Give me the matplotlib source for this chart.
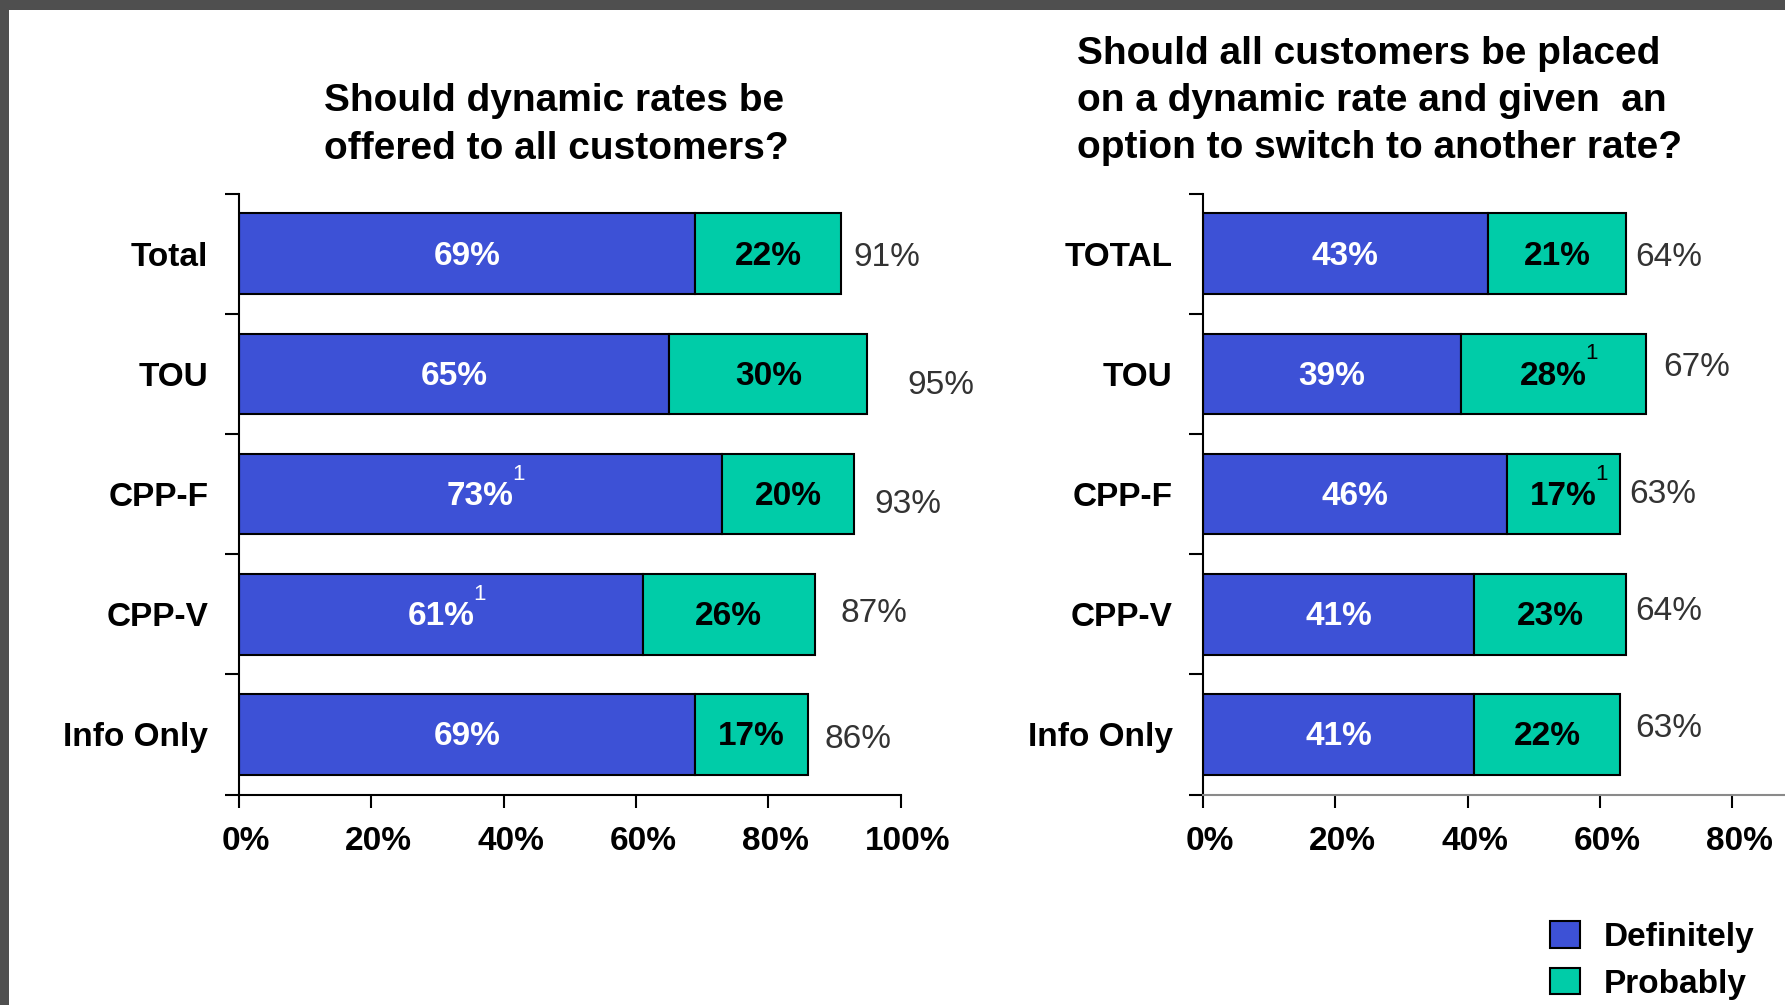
import matplotlib
matplotlib.use("Agg")
import numpy as np
import matplotlib.pyplot as plt
import matplotlib.transforms as mtransforms
from matplotlib.patches import Patch, Rectangle

plt.rcParams['font.family'] = ['Liberation Sans', 'DejaVu Sans']

BLUE = '#3d51d6'
GREEN = '#00cca8'

# survey results, percent
cats_left = ['Total', 'TOU', 'CPP-F', 'CPP-V', 'Info Only']
definitely_left = [69, 65, 73, 61, 69]
probably_left = [22, 30, 20, 26, 17]
note_def_left = [False, False, True, True, False]
note_prob_left = [False, False, False, False, False]

cats_right = ['TOTAL', 'TOU', 'CPP-F', 'CPP-V', 'Info Only']
definitely_right = [43, 39, 46, 41, 41]
probably_right = [21, 28, 17, 23, 22]
note_def_right = [False, False, False, False, False]
note_prob_right = [False, True, True, False, False]

xticks_left = [0, 20, 40, 60, 80, 100]
xticks_right = [0, 20, 40, 60, 80]

# nudges for the total labels (x in percent, y in rows)
nudge_left = [(1.9, 0.03), (6.0, 0.095), (3.0, 0.085), (4.0, -0.01), (2.5, 0.04)]
nudge_right = [(1.4, 0.03), (2.5, -0.05), (1.4, 0.0), (1.4, -0.02), (2.4, -0.05)]

title_left = "Should dynamic rates be\noffered to all customers?"
title_right = ("Should all customers be placed\non a dynamic rate and given  an\n"
               "option to switch to another rate?")


def draw_panel(ax, cats, d, p, note_d, note_p, nudge, xticks):
    y = np.arange(len(cats))
    ax.barh(y, d, height=0.67, color=BLUE, edgecolor='black', linewidth=1.5)
    ax.barh(y, p, left=d, height=0.67, color=GREEN, edgecolor='black', linewidth=1.5)
    for i in range(len(cats)):
        t1 = ax.text(d[i] / 2, y[i] + 0.02, f"{d[i]}%", color='white', fontsize=24,
                     fontweight='bold', ha='center', va='center')
        t2 = ax.text(d[i] + p[i] / 2, y[i] + 0.02, f"{p[i]}%", color='black', fontsize=24,
                     fontweight='bold', ha='center', va='center')
        for t, flag, col in ((t1, note_d[i], 'white'), (t2, note_p[i], 'black')):
            if flag:
                ax.annotate('1', xy=(1, 1), xycoords=t, xytext=(-1, 5),
                            textcoords='offset points', fontsize=16,
                            color=col, ha='left', va='center')
        tot = d[i] + p[i]
        ax.text(tot + nudge[i][0], y[i] + nudge[i][1], f"{tot}%", color='#333333',
                fontsize=24, ha='left', va='center', clip_on=False)

    ax.set_ylim(len(cats) - 0.5, -0.5)
    ax.set_xlim(0, 100)
    ax.set_yticks(np.arange(len(cats) + 1) - 0.5)
    ax.set_yticklabels([])
    ax.set_yticks(y, minor=True)
    ax.set_yticklabels(cats, minor=True, fontsize=24, fontweight='bold')
    ax.tick_params(axis='y', which='major', length=10, width=1.5, direction='out')
    ax.tick_params(axis='y', which='minor', length=0, pad=22)
    ax.set_xticks(xticks)
    ax.set_xticklabels([f"{v}%" for v in xticks], fontsize=24, fontweight='bold')
    ax.tick_params(axis='x', length=9, width=1.5, direction='out', pad=14)
    shift = mtransforms.ScaledTranslation(5 / 72, 0, ax.figure.dpi_scale_trans)
    for lab in ax.get_xticklabels():
        lab.set_transform(lab.get_transform() + shift)
    for s in ('top', 'right'):
        ax.spines[s].set_visible(False)
    for s in ('left', 'bottom'):
        ax.spines[s].set_linewidth(1.5)


fig = plt.figure(figsize=(17.85, 10.05), dpi=100)

ax1 = fig.add_axes([0.1339, 0.2094, 0.3706, 0.598])
draw_panel(ax1, cats_left, definitely_left, probably_left,
           note_def_left, note_prob_left, nudge_left, xticks_left)

ax2 = fig.add_axes([0.674, 0.2094, 0.3706, 0.598])
draw_panel(ax2, cats_right, definitely_right, probably_right,
           note_def_right, note_prob_right, nudge_right, xticks_right)
ax2.spines['bottom'].set_color('#8a8a8a')

fig.text(0.1815, 0.8756, title_left, fontsize=28, fontweight='bold',
         ha='left', va='center', multialignment='left', linespacing=1.4)
fig.text(0.6034, 0.8996, title_right, fontsize=28, fontweight='bold',
         ha='left', va='center', multialignment='left', linespacing=1.4)

handles = [Patch(facecolor=BLUE, edgecolor='black', linewidth=1.5, label='Definitely'),
           Patch(facecolor=GREEN, edgecolor='black', linewidth=1.5, label='Probably')]
fig.legend(handles=handles, loc='upper left', bbox_to_anchor=(1550 / 1785, 1 - 921 / 1005),
           frameon=False, prop={'weight': 'bold', 'size': 24},
           handlelength=0.9, handleheight=0.85, handletextpad=0.7,
           labelspacing=0.45, borderpad=0, borderaxespad=0)

# dark frame strips along the top and left edges
fig.patches.append(Rectangle((0, 1 - 10 / 1005), 1, 10 / 1005, transform=fig.transFigure,
                             facecolor='#4f4f4f', edgecolor='none', zorder=10))
fig.patches.append(Rectangle((0, 0), 9 / 1785, 1, transform=fig.transFigure,
                             facecolor='#4f4f4f', edgecolor='none', zorder=10))

fig.savefig('out.png', dpi=100)
